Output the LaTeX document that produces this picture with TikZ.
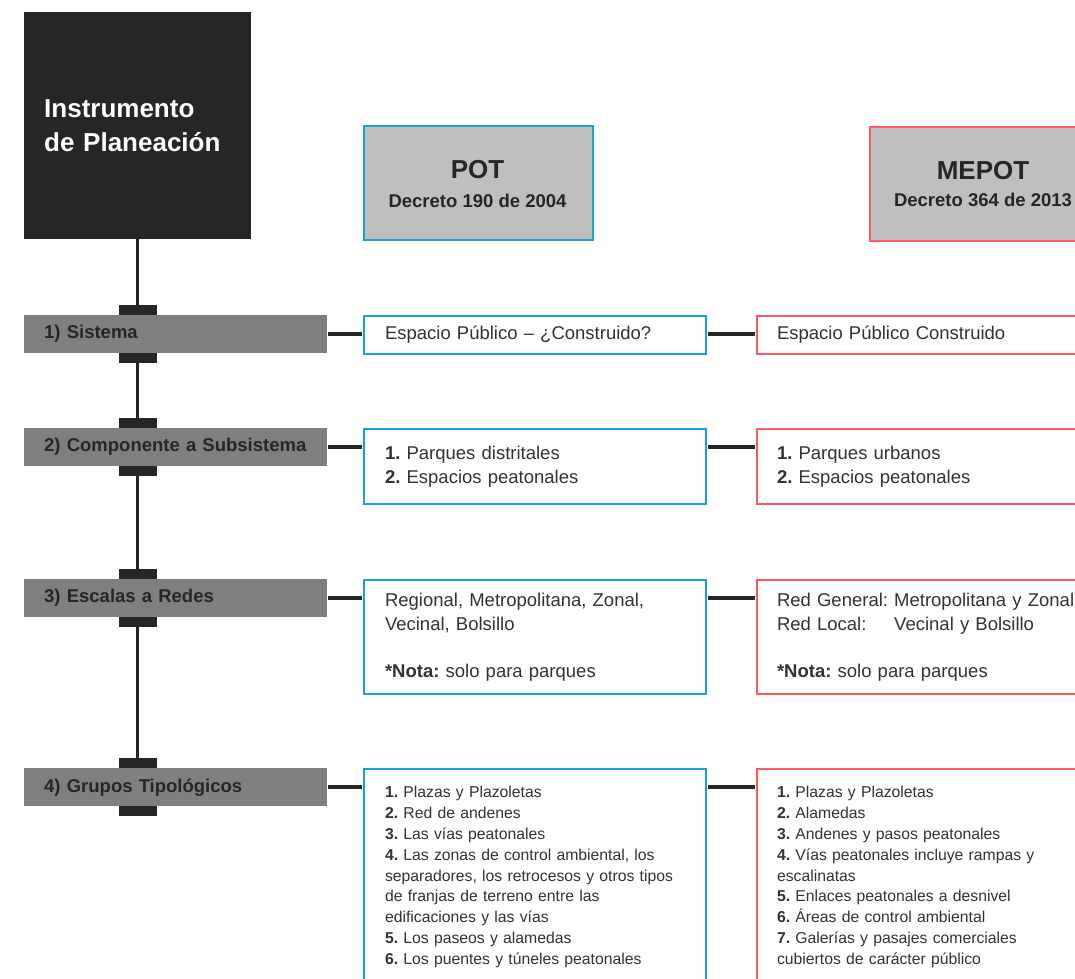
\documentclass[tikz,border=0pt]{standalone}
\usepackage{fontspec}
\setmainfont{Liberation Sans}
\usetikzlibrary{calc}
\definecolor{ink}{HTML}{262626}
\definecolor{bodytxt}{HTML}{333333}
\definecolor{potblue}{HTML}{1AA0DC}
\definecolor{mepred}{HTML}{FF5A5A}
\definecolor{hdrgray}{HTML}{BFBFBF}
\definecolor{bargray}{HTML}{7F7F7F}
\newlength{\redgenw}
\newcommand{\fsz}[2]{\fontsize{#1}{#2}\selectfont}
\newcommand{\barticks}[1]{%
  \fill[tickfill] ($(inst.south |- #1.north)+(-19,-10)$) rectangle ($(inst.south |- #1.north)+(19,0)$);
  \fill[tickfill] ($(inst.south |- #1.south)+(-19,0)$) rectangle ($(inst.south |- #1.south)+(19,10)$);}
\frenchspacing
\begin{document}
\frenchspacing
\begin{tikzpicture}[x=1pt,y=-1pt,
  instbox/.style={anchor=north west, fill=ink, minimum width=227pt, minimum height=227pt,
    inner xsep=20pt, text width=187pt, align=left, text=white, font=\fsz{26}{34}\bfseries},
  barbox/.style={anchor=north west, fill=bargray, minimum width=303pt, minimum height=38pt,
    inner xsep=20pt, inner ysep=0pt, text width=263pt, align=left, text=ink, font=\fsz{18.5}{24}\bfseries},
  hdr/.style={anchor=north west, fill=hdrgray, draw=#1, line width=2pt, minimum width=229pt, minimum height=114pt},
  hdrA/.style={anchor=base, text=ink, font=\fsz{26}{30}\bfseries, inner sep=0pt},
  hdrB/.style={anchor=base, text=ink, font=\fsz{18.5}{24}\bfseries, inner sep=0pt},
  cbox/.style={anchor=north west, fill=white, draw=#1, line width=2pt, minimum width=342pt,
    text width=300pt, inner xsep=21pt, inner ysep=0pt, align=left, text=bodytxt, font=\fsz{18.5}{23.5}},
  rbox/.style={cbox=mepred, text width=330pt, inner xsep=20pt},
  lbox/.style={font=\fsz{15.75}{20.8}, inner ysep=17.5pt},
  spine/.style={draw=ink, line width=3.5pt},
  conn/.style={draw=ink, line width=3.5pt, shorten >=1pt, shorten <=1pt},
  tickfill/.style={fill=ink},
]
\path[use as bounding box] (0,0) rectangle (1075,978);
\clip (0,0) rectangle (1075,978);

% title block
\node[instbox] (inst) at (24,12) {Instrumento\\de Planeación};

% headers
\node[hdr=potblue] (pot) at (363,125) {};
\node[hdrA] (potT) at (477.5,178) {POT};
\node[hdrB] (potD) at (477.5,207) {Decreto 190 de 2004};
\node[hdr=mepred] (mep) at (869,126) {};
\node[hdrA] (mepT) at (983,179) {MEPOT};
\node[hdrB] (mepD) at (983,206) {Decreto 364 de 2013};

% bars
\node[barbox] (b1) at (24,315) {1) Sistema};
\node[barbox] (b2) at (24,428) {2) Componente a Subsistema};
\node[barbox] (b3) at (24,579) {3) Escalas a Redes};
\node[barbox] (b4) at (24,768) {4) Grupos Tipológicos};

% POT column
\node[cbox=potblue, minimum height=38pt] (p1) at (363,315) {Espacio Público – ¿Construido?};
\node[cbox=potblue, minimum height=75pt] (p2) at (363,428) {\textbf{1.} Parques distritales\\\textbf{2.} Espacios peatonales};
\node[cbox=potblue, minimum height=114pt] (p3) at (363,579) {Regional, Metropolitana, Zonal,\\Vecinal, Bolsillo\\[23.5pt]\textbf{*Nota:} solo para parques};
\node[cbox=potblue, lbox] (p4) at (363,768) {\textbf{1.} Plazas y Plazoletas\\
\textbf{2.} Red de andenes\\
\textbf{3.} Las vías peatonales\\
\textbf{4.} Las zonas de control ambiental, los\\
separadores, los retrocesos y otros tipos\\
de franjas de terreno entre las\\
edificaciones y las vías\\
\textbf{5.} Los paseos y alamedas\\
\textbf{6.} Los puentes y túneles peatonales\rule[-20pt]{0pt}{20pt}};

% MEPOT column
\node[rbox, minimum height=38pt] (m1) at (756,315) {Espacio Público Construido};
\node[rbox, minimum height=75pt] (m2) at (756,428) {\textbf{1.} Parques urbanos\\\textbf{2.} Espacios peatonales};
\node[rbox, minimum height=114pt] (m3) at (756,579) {\settowidth{\redgenw}{Red General:\ }Red General: Metropolitana y Zonal\\\makebox[\redgenw][l]{Red Local:}Vecinal y Bolsillo\\[23.5pt]\textbf{*Nota:} solo para parques};
\node[rbox, lbox] (m4) at (756,768) {\textbf{1.} Plazas y Plazoletas\\
\textbf{2.} Alamedas\\
\textbf{3.} Andenes y pasos peatonales\\
\textbf{4.} Vías peatonales incluye rampas y\\
escalinatas\\
\textbf{5.} Enlaces peatonales a desnivel\\
\textbf{6.} Áreas de control ambiental\\
\textbf{7.} Galerías y pasajes comerciales\\
cubiertos de carácter público\rule[-20pt]{0pt}{20pt}};

% spine
\draw[spine] (inst.south) -- (inst.south |- b1.north);
\draw[spine] (inst.south |- b1.south) -- (inst.south |- b2.north);
\draw[spine] (inst.south |- b2.south) -- (inst.south |- b3.north);
\draw[spine] (inst.south |- b3.south) -- (inst.south |- b4.north);
\barticks{b1}
\barticks{b2}
\barticks{b3}
\barticks{b4}

% connectors
\foreach \i in {1,...,4}{
  \draw[conn] (b\i.east) -- (b\i.east -| p\i.west);
  \draw[conn] (b\i.east -| p\i.east) -- (b\i.east -| m\i.west);
}
\end{tikzpicture}
\end{document}
